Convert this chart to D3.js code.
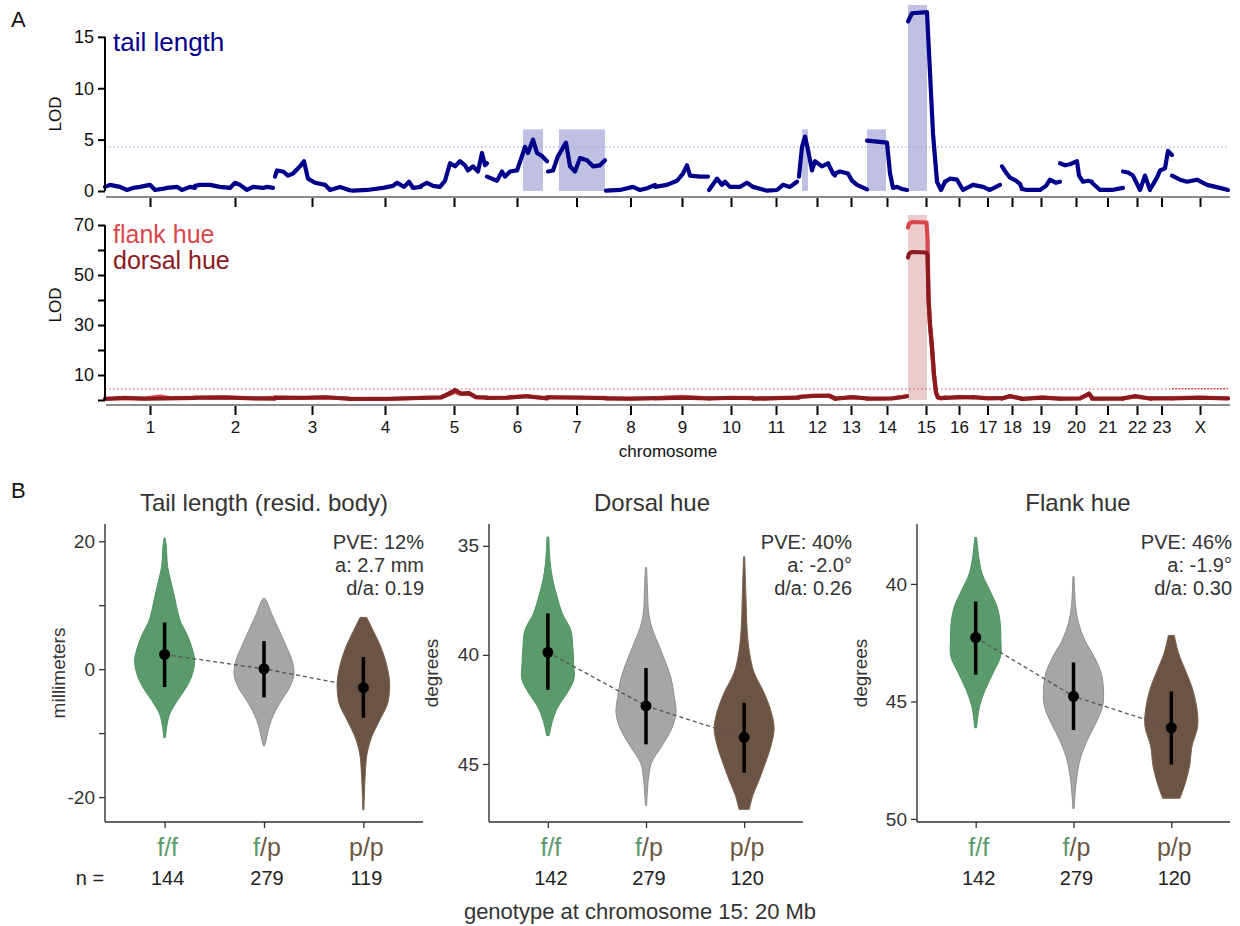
<!DOCTYPE html>
<html><head><meta charset="utf-8">
<script src="https://cdn.jsdelivr.net/npm/d3@7"></script>
<style>
body{margin:0;background:#fff}
svg{display:block}
text{font-family:"Liberation Sans",Arial,Helvetica,sans-serif}
</style>
</head><body>
<svg id="chart" width="1240" height="926"></svg>
<script>
// ---------------- DATA ----------------
const chromosomes = ["1","2","3","4","5","6","7","8","9","10","11","12","13","14","15","16","17","18","19","20","21","22","23","X"];
const chromLengths = [90,80,74,72,66,60,59,49,54,44,46,36,32,40,38,28,29,20,38,32,31,28,21,56];

// [chromosome, position, LOD]
const tailLod = [
 ["1",0,0.4],["1",5,0.6],["1",10,0.5],["1",15,0.4],["1",22,0.1],["1",28,0.3],["1",35,0.4],["1",45,0.6],["1",50,0.1],["1",57,0.2],["1",62,0.3],["1",72,0.4],["1",77,0.1],["1",85,0.4],["1",90,0.3],
 ["2",0,0.5],["2",5,0.6],["2",15,0.6],["2",25,0.4],["2",35,0.3],["2",40,0.8],["2",45,0.6],["2",52,0.1],["2",58,0.4],["2",68,0.3],["2",72,0.4],["2",78,0.3],
 ["3",0,1.4],["3",2,2.0],["3",8,1.9],["3",13,1.5],["3",18,1.7],["3",25,2.4],["3",29,2.9],["3",33,1.2],["3",40,0.8],["3",50,0.6],["3",55,0.1],["3",65,0.4],["3",74,0.1],
 ["4",0,0.1],["4",4,0.03],["4",18,0.1],["4",34,0.3],["4",44,0.5],["4",48,0.8],["4",55,0.4],["4",60,0.9],["4",64,0.3],["4",72,0.4],
 ["5",0,0.5],["5",6,0.8],["5",12,0.5],["5",19,0.4],["5",24,1.0],["5",29,2.7],["5",34,2.4],["5",39,2.9],["5",44,2.5],["5",47,2.0],["5",52,2.4],["5",57,1.9],["5",61,3.7],["5",64,2.5],["5",66,2.7],
 ["6",0,1.4],["6",10,1.0],["6",15,1.9],["6",18,1.4],["6",23,1.9],["6",30,2.0],["6",35,3.4],["6",38,4.3],["6",41,3.7],["6",46,5.0],["6",50,3.7],["6",55,3.4],["6",60,2.9],
 ["7",1,1.9],["7",6,2.0],["7",11,3.4],["7",19,4.7],["7",23,2.4],["7",28,1.9],["7",33,3.2],["7",40,3.0],["7",46,2.4],["7",53,2.5],["7",58,3.0],
 ["8",0,0.03],["8",14,0.1],["8",27,0.4],["8",34,0.1],["8",42,0.3],["8",49,0.6],
 ["9",0,0.4],["9",12,0.6],["9",22,1.0],["9",28,1.7],["9",32,2.5],["9",35,1.5],["9",45,1.4],["9",53,1.4],
 ["10",0,0.1],["10",8,1.2],["10",13,0.6],["10",16,0.9],["10",21,0.4],["10",31,0.4],["10",38,0.8],["10",44,0.4],
 ["11",0,0.4],["11",14,0.03],["11",24,0.1],["11",30,0.6],["11",37,0.4],["11",44,0.9],
 ["12",0,1.4],["12",3,4.3],["12",6,5.3],["12",9,4.0],["12",13,2.0],["12",16,2.9],["12",23,2.4],["12",29,2.7],["12",34,1.7],["12",36,1.5],
 ["13",0,1.7],["13",5,1.9],["13",13,1.7],["13",17,1.0],["13",22,0.6],["13",32,0.15],
 ["14",0,4.9],["14",20,4.7],["14",23,1.7],["14",26,0.3],["14",30,0.4],["14",35,0.2],["14",40,0.1],
 ["15",1,16.5],["15",5,17.3],["15",20,17.4],["15",23,11.5],["15",26,5.6],["15",30,0.9],["15",34,0.1],["15",38,0.9],
 ["16",0,0.9],["16",5,1.2],["16",12,1.1],["16",18,0.1],["16",28,0.6],
 ["17",0,0.6],["17",10,0.4],["17",17,0.1],["17",27,0.6],
 ["18",0,2.4],["18",4,1.8],["18",8,1.3],["18",14,1.0],["18",18,0.7],["18",20,0.2],
 ["19",0,0.2],["19",5,0.1],["19",18,0.1],["19",24,0.5],["19",28,1.1],["19",34,0.8],["19",38,0.9],
 ["20",0,2.7],["20",5,2.5],["20",10,2.6],["20",17,2.9],["20",19,1.5],["20",23,0.9],["20",28,1.0],["20",32,0.9],
 ["21",0,0.8],["21",8,0.1],["21",20,0.1],["21",31,0.3],
 ["22",0,1.9],["22",5,1.8],["22",10,1.5],["22",17,0.1],["22",22,1.5],["22",27,0.1],
 ["23",0,0.3],["23",6,1.3],["23",9,2.0],["23",14,2.2],["23",17,3.9],["23",21,3.5],
 ["X",0,1.5],["X",8,1.1],["X",15,0.9],["X",25,1.1],["X",35,0.6],["X",48,0.3],["X",56,0.1]
];

const flankLod = [
 ["1",0,0.5],["1",20,0.7],["1",40,0.6],["1",55,1.4],["1",65,0.8],["1",90,0.9],
 ["2",0,1.0],["2",30,1.1],["2",60,0.7],["2",80,0.9],
 ["3",0,1.1],["3",30,0.8],["3",50,1.0],["3",74,0.6],
 ["4",0,0.5],["4",40,0.4],["4",72,0.9],
 ["5",0,0.9],["5",20,1.1],["5",30,2.6],["5",34,3.4],["5",40,2.4],["5",48,2.5],["5",55,1.0],["5",66,0.9],
 ["6",0,0.9],["6",20,1.0],["6",40,1.6],["6",45,1.2],["6",60,0.8],
 ["7",0,1.2],["7",30,0.9],["7",59,0.9],
 ["8",0,0.7],["8",25,0.6],["8",49,0.8],
 ["9",0,0.8],["9",27,1.3],["9",54,0.7],
 ["10",0,0.7],["10",22,0.8],["10",44,0.9],
 ["11",0,0.6],["11",30,0.9],["11",46,1.0],
 ["12",0,1.3],["12",15,1.8],["12",30,1.6],["12",36,0.7],
 ["13",0,0.6],["13",17,1.0],["13",32,0.7],
 ["14",0,0.6],["14",25,0.7],["14",36,1.3],["14",40,1.6],
 ["15",1,69],["15",2,70.5],["15",5,71.2],["15",19.5,71],["15",20.5,65],["15",21.5,42],["15",23,30],["15",25,21],["15",27,10],["15",29,3],["15",31,1],["15",34,0.6],["15",38,0.9],
 ["16",0,0.9],["16",14,1.0],["16",28,1.2],
 ["17",0,1.0],["17",15,0.8],["17",29,0.7],
 ["18",0,0.7],["18",8,1.4],["18",20,0.6],
 ["19",0,0.5],["19",20,1.1],["19",38,0.6],
 ["20",0,0.6],["20",20,0.7],["20",29,2.2],["20",32,0.9],
 ["21",0,0.6],["21",31,0.5],
 ["22",0,0.7],["22",12,1.3],["22",28,0.6],
 ["23",0,0.6],["23",21,0.8],
 ["X",0,0.8],["X",28,1.0],["X",56,0.7]
];

const dorsalLod = [
 ["1",0,0.4],["1",20,0.9],["1",40,0.5],["1",60,0.6],["1",90,0.8],
 ["2",0,0.9],["2",30,1.0],["2",60,0.6],["2",80,0.5],
 ["3",0,0.8],["3",30,0.9],["3",50,1.1],["3",74,0.5],
 ["4",0,0.4],["4",40,0.5],["4",72,0.8],
 ["5",0,0.8],["5",20,1.0],["5",30,3.0],["5",34,4.0],["5",40,2.6],["5",48,2.8],["5",55,1.2],["5",66,1.0],
 ["6",0,0.8],["6",20,0.9],["6",40,1.5],["6",45,1.3],["6",60,0.6],
 ["7",0,1.0],["7",30,1.0],["7",59,0.7],
 ["8",0,0.6],["8",25,0.5],["8",49,0.7],
 ["9",0,0.6],["9",27,0.9],["9",54,0.6],
 ["10",0,0.6],["10",22,0.9],["10",44,0.7],
 ["11",0,0.5],["11",30,0.8],["11",46,0.9],
 ["12",0,1.2],["12",15,1.6],["12",30,1.8],["12",36,0.6],
 ["13",0,0.5],["13",17,1.2],["13",32,0.6],
 ["14",0,0.5],["14",25,0.6],["14",36,1.2],["14",40,1.5],
 ["15",1,57],["15",2,58.5],["15",5,59.2],["15",19,59],["15",20.5,58],["15",21.5,40],["15",23,30],["15",25,21],["15",27,10],["15",29,3],["15",31,1],["15",34,0.8],["15",38,1.0],
 ["16",0,0.8],["16",14,1.2],["16",28,1.0],
 ["17",0,1.2],["17",15,0.6],["17",29,0.8],
 ["18",0,0.6],["18",8,1.6],["18",20,0.5],
 ["19",0,0.4],["19",20,0.9],["19",38,0.5],
 ["20",0,0.5],["20",20,0.6],["20",29,2.6],["20",32,1.0],
 ["21",0,0.5],["21",31,0.6],
 ["22",0,0.6],["22",12,1.6],["22",28,0.5],
 ["23",0,0.7],["23",21,0.6],
 ["X",0,0.6],["X",28,0.9],["X",56,0.6]
];

// [chromosome, start, end, upper LOD]
const tailIntervals = [["6",36,56,6.0],["7",12,58,6.0],["12",3,9,6.0],["14",0,19,6.0],["15",1,20,18.1]];
const hueIntervals = [["15",1,20,74]];
const tailThreshold = 4.28;
const hueThreshold = 4.4;
const hueThresholdX = 4.5;

const lodTicksTop = [0,5,10,15];
const lodTicksBottom = [0,10,20,30,40,50,60,70];
const lodLabelsBottom = [10,30,50,70];

// Panel B
const genotypes = ["f/f","f/p","p/p"];
const tailN = [144,279,119];
const dorsalN = [142,279,120];
const flankN = [142,279,120];
const tailMeans = [2.3,0.05,-2.9];
const dorsalMeans = [39.88,42.34,43.78];
const flankMeans = [42.28,44.78,46.12];
const tailBars = [[-2.8,7.3],[-4.4,4.4],[-7.6,1.9]];
const dorsalBars = [[38.1,41.6],[40.6,44.1],[42.2,45.4]];
const flankBars = [[40.75,43.86],[43.34,46.22],[44.58,47.68]];
const tailStats = ["PVE: 12%","a: 2.7 mm","d/a: 0.19"];
const dorsalStats = ["PVE: 40%","a: -2.0°","d/a: 0.26"];
const flankStats = ["PVE: 46%","a: -1.9°","d/a: 0.30"];

// violin profiles: [value, relative density width]
const tailFF = [[20.5,0.02],[19.5,0.05],[18,0.07],[16,0.1],[13.9,0.2],[11.3,0.33],[8.7,0.45],[7.2,0.55],[5.6,0.73],[3.5,0.9],[1.4,1.0],[-0.7,0.93],[-2.8,0.73],[-4.9,0.43],[-7.0,0.17],[-9,0.07],[-10.7,0.03]];
const tailFP = [[11.1,0.02],[10.5,0.1],[8.7,0.25],[6.1,0.5],[3.5,0.75],[1.4,0.93],[-0.7,1.0],[-2.8,0.86],[-4.9,0.58],[-7.0,0.33],[-9.0,0.17],[-11.1,0.07],[-12,0.02]];
const tailPP = [[8.1,0.11],[6.1,0.32],[3.5,0.58],[0.8,0.77],[-1.8,0.87],[-3.4,0.87],[-5.5,0.8],[-8.1,0.53],[-10.7,0.27],[-13.3,0.12],[-15.9,0.07],[-20,0.03],[-22,0.02]];
const dorsalFF = [[34.6,0.03],[35.8,0.08],[36.6,0.17],[37.3,0.3],[38.1,0.48],[38.85,0.76],[39.6,0.83],[40.4,0.86],[41.1,0.87],[41.75,0.64],[42.4,0.33],[43.0,0.16],[43.7,0.04]];
const dorsalFP = [[36.0,0.02],[37.0,0.05],[38.1,0.09],[38.85,0.22],[39.6,0.44],[40.4,0.67],[41.1,0.84],[41.9,0.94],[42.65,1.0],[43.4,0.85],[44.2,0.52],[44.95,0.18],[45.7,0.08],[46.9,0.02]];
const dorsalPP = [[35.5,0.02],[37.3,0.06],[38.85,0.1],[39.9,0.18],[40.8,0.33],[41.75,0.67],[42.65,0.91],[43.4,1.0],[44.2,0.89],[44.95,0.71],[45.7,0.51],[46.45,0.29],[47.08,0.17]];
const flankFF = [[38.02,0.03],[38.84,0.1],[39.55,0.21],[40.25,0.46],[40.96,0.71],[41.67,0.82],[42.38,0.84],[43.08,0.83],[43.79,0.58],[44.5,0.32],[45.2,0.13],[46.12,0.03]];
const flankFP = [[39.69,0.02],[40.96,0.07],[41.67,0.17],[42.38,0.37],[43.08,0.68],[43.79,0.92],[44.5,1.0],[45.2,0.97],[45.91,0.75],[46.62,0.47],[47.33,0.25],[48.03,0.13],[48.8,0.06],[49.56,0.02]];
const flankPP = [[42.19,0.1],[42.94,0.24],[43.65,0.46],[44.36,0.68],[45.2,0.84],[46.05,0.88],[46.9,0.69],[47.75,0.61],[48.46,0.47],[49.12,0.29]];

// ---------------- DRAWING ----------------
const svg = d3.select("#chart");
const FONT = '"Liberation Sans",Arial,Helvetica,sans-serif';

const offsets = [];
{ let acc = 0; chromLengths.forEach(l => { offsets.push(acc); acc += l; }); }
const total = d3.sum(chromLengths);
const x = d3.scaleLinear().domain([0, total]).range([105, 1228]);
const cIdx = c => chromosomes.indexOf(c);
const gpos = (c, p) => offsets[cIdx(c)] + p;
const mids = chromosomes.map((c, i) => offsets[i] + chromLengths[i] / 2);

function lodPanel(opts) {
  const g = svg.append("g");
  const y = opts.y;
  g.selectAll("rect.iv").data(opts.intervals).join("rect")
    .attr("x", d => x(gpos(d[0], d[1])))
    .attr("width", d => x(gpos(d[0], d[2])) - x(gpos(d[0], d[1])))
    .attr("y", d => y(d[3]))
    .attr("height", d => y(0) - y(d[3]))
    .attr("fill", opts.ivColor);
  opts.thresholds.forEach(t => {
    g.append("line").attr("x1", x(t.from)).attr("x2", x(t.to))
      .attr("y1", y(t.v)).attr("y2", y(t.v))
      .attr("stroke", opts.thrColor).attr("stroke-width", t.w || 1.2)
      .attr("stroke-dasharray", t.dash || "1.5,2.5");
  });
  const line = d3.line().x(d => x(gpos(d[0], d[1]))).y(d => y(d[2]));
  opts.series.forEach(s => {
    const groups = d3.groups(s.data, d => d[0]);
    g.selectAll(null).data(groups).join("path")
      .attr("d", d => line(d[1]))
      .attr("fill", "none").attr("stroke", s.color)
      .attr("stroke-width", 4.2).attr("stroke-linejoin", "round").attr("stroke-linecap", "round");
  });
  const ya = d3.axisLeft(y).tickValues(opts.yTicks).tickSize(7).tickPadding(4)
    .tickFormat(d => opts.yLabels.includes(d) ? d : "");
  const yag = g.append("g").attr("transform", "translate(105,0)").call(ya);
  yag.select(".domain").remove();
  yag.append("line").attr("x1", 0).attr("x2", 0)
    .attr("y1", y(0)).attr("y2", y(d3.max(opts.yTicks))).attr("stroke", "#000").attr("stroke-width", 2);
  yag.selectAll(".tick line").attr("stroke", "#000").attr("stroke-width", 2);
  yag.selectAll(".tick text").attr("font-size", 18).attr("font-family", FONT).attr("fill", "#111");
  const xa = d3.axisBottom(x).tickValues(mids).tickSize(10).tickPadding(6)
    .tickFormat((d, i) => opts.xLabels ? chromosomes[i] : "");
  const xag = g.append("g").attr("transform", `translate(0,${opts.xAxisY})`).call(xa);
  xag.select(".domain").remove();
  xag.append("line").attr("x1", 106).attr("x2", 1230).attr("y1", 0).attr("y2", 0)
    .attr("stroke", "#8c8c8c").attr("stroke-width", 2);
  xag.selectAll(".tick line").attr("stroke", "#000").attr("stroke-width", 2).attr("y1", 1);
  xag.selectAll(".tick text").attr("font-size", 17).attr("font-family", FONT).attr("fill", "#111");
  g.append("text").attr("transform", `translate(61,${opts.lodY}) rotate(-90)`)
    .attr("text-anchor", "middle").attr("font-size", 17).attr("fill", "#111").text("LOD");
  return g;
}

const yA = d3.scaleLinear().domain([0, 18.1]).range([191, 5]);
lodPanel({
  y: yA, intervals: tailIntervals, ivColor: "#bfc0e2", thrColor: "#9d9dd6",
  thresholds: [{from: 0, to: total, v: tailThreshold}],
  series: [{data: tailLod, color: "#00008b"}],
  yTicks: lodTicksTop, yLabels: lodTicksTop, xAxisY: 197, xLabels: false, lodY: 114
});
svg.append("text").attr("x", 113).attr("y", 51).attr("font-size", 26).attr("fill", "#00008b").text("tail length");

const yA2 = d3.scaleLinear().domain([0, 74]).range([400, 215]);
const xStart = offsets[cIdx("X")];
lodPanel({
  y: yA2, intervals: hueIntervals, ivColor: "#eacccd", thrColor: "#e2474b",
  thresholds: [{from: 0, to: xStart, v: hueThreshold}, {from: xStart, to: total, v: hueThresholdX, dash: "2,1.2", w: 1.5}],
  series: [{data: flankLod, color: "#d9474c"}, {data: dorsalLod, color: "#8b1a1e"}],
  yTicks: lodTicksBottom, yLabels: lodLabelsBottom, xAxisY: 405, xLabels: true, lodY: 305
});
svg.append("text").attr("x", 113).attr("y", 243).attr("font-size", 25).attr("fill", "#d9474c").text("flank hue");
svg.append("text").attr("x", 113).attr("y", 269).attr("font-size", 25).attr("fill", "#8b1a1e").text("dorsal hue");
svg.append("text").attr("x", 668).attr("y", 457).attr("text-anchor", "middle").attr("font-size", 17).attr("fill", "#111").text("chromosome");

svg.append("text").attr("x", 11).attr("y", 27).attr("font-size", 22).attr("fill", "#111").text("A");
svg.append("text").attr("x", 11).attr("y", 498).attr("font-size", 22).attr("fill", "#111").text("B");

// ---- violins ----
const genoColors = {f: "#5a9a6b", p: "#6b5444"};
const violinFill = ["#5a9a6b", "#a6a6a6", "#6b5444"];
const violinStroke = ["#4e9362", "#8e8e8e", "#7a6250"];
const wScale = d3.scaleLinear().domain([0, 1]).range([0, 30]);

function violinPanel(o) {
  const g = svg.append("g");
  const xs = d3.scalePoint().domain(genotypes).range([o.x0, o.x1]).padding(0.6);
  const ys = d3.scaleLinear().domain(o.domain).range(o.range);
  const top = 524, bottom = 822;
  o.profiles.forEach((prof, i) => {
    const cx = xs(genotypes[i]);
    const area = d3.area().curve(d3.curveCatmullRom.alpha(0.5))
      .y(d => ys(d[0])).x0(d => cx - wScale(d[1])).x1(d => cx + wScale(d[1]));
    g.append("path").attr("d", area(prof)).attr("fill", violinFill[i])
      .attr("stroke", violinStroke[i]).attr("stroke-width", 1);
  });
  const ml = d3.line().x((d, i) => xs(genotypes[i])).y(d => ys(d));
  g.append("path").attr("d", ml(o.means)).attr("fill", "none").attr("stroke", "#555")
    .attr("stroke-width", 1.3).attr("stroke-dasharray", "4,3");
  g.selectAll(null).data(o.bars).join("line")
    .attr("x1", (d, i) => xs(genotypes[i])).attr("x2", (d, i) => xs(genotypes[i]))
    .attr("y1", d => ys(d[0])).attr("y2", d => ys(d[1]))
    .attr("stroke", "#000").attr("stroke-width", 3.5);
  g.selectAll(null).data(o.means).join("circle")
    .attr("cx", (d, i) => xs(genotypes[i])).attr("cy", d => ys(d)).attr("r", 5.5).attr("fill", "#000");
  g.append("line").attr("x1", o.x0).attr("x2", o.x0).attr("y1", top).attr("y2", bottom)
    .attr("stroke", "#333").attr("stroke-width", 1.4);
  g.append("line").attr("x1", o.x0).attr("x2", o.x1).attr("y1", bottom).attr("y2", bottom)
    .attr("stroke", "#333").attr("stroke-width", 1.4);
  const ya = d3.axisLeft(ys).tickValues(o.ticks).tickSize(6).tickPadding(4)
    .tickFormat(d => o.labels.includes(d) ? String(d) : "");
  const yag = g.append("g").attr("transform", `translate(${o.x0},0)`).call(ya);
  yag.select(".domain").remove();
  yag.selectAll(".tick line").attr("stroke", "#333").attr("stroke-width", 1.3);
  yag.selectAll(".tick text").attr("font-size", 19).attr("font-family", FONT).attr("fill", "#333");
  const xa = d3.axisBottom(xs).tickSize(6).tickFormat("");
  const xag = g.append("g").attr("transform", `translate(0,${bottom})`).call(xa);
  xag.select(".domain").remove();
  xag.selectAll(".tick line").attr("stroke", "#333").attr("stroke-width", 1.3);
  genotypes.forEach((gt, i) => {
    const t = g.append("text").attr("x", xs(gt) + 3).attr("y", 856).attr("text-anchor", "middle")
      .attr("font-size", 25);
    t.append("tspan").attr("fill", genoColors[gt[0]]).text(gt[0]);
    t.append("tspan").attr("fill", genoColors[gt[2]]).text("/" + gt[2]);
    g.append("text").attr("x", xs(gt) + 3).attr("y", 885).attr("text-anchor", "middle")
      .attr("font-size", 20).attr("fill", "#222").text(o.n[i]);
  });
  g.append("text").attr("x", o.titleX).attr("y", 511).attr("text-anchor", "middle")
    .attr("font-size", 24).attr("fill", "#333").text(o.title);
  o.stats.forEach((s, i) => {
    g.append("text").attr("x", o.statsX).attr("y", 549 + i * 23).attr("text-anchor", "end")
      .attr("font-size", 20).attr("fill", "#333").text(s);
  });
  g.append("text").attr("transform", `translate(${o.yTitleX},673) rotate(-90)`)
    .attr("text-anchor", "middle").attr("font-size", 19).attr("fill", "#333").text(o.yTitle);
}

violinPanel({x0: 105, x1: 423, domain: [-23.9, 22.7], range: [822, 524],
  ticks: [-20, -10, 0, 10, 20], labels: [-20, 0, 20],
  profiles: [tailFF, tailFP, tailPP], means: tailMeans, bars: tailBars, n: tailN,
  title: "Tail length (resid. body)", titleX: 264, stats: tailStats, statsX: 424,
  yTitle: "millimeters", yTitleX: 65});
violinPanel({x0: 489, x1: 803, domain: [34.0, 47.66], range: [524, 822],
  ticks: [35, 40, 45], labels: [35, 40, 45],
  profiles: [dorsalFF, dorsalFP, dorsalPP], means: dorsalMeans, bars: dorsalBars, n: dorsalN,
  title: "Dorsal hue", titleX: 652, stats: dorsalStats, statsX: 852,
  yTitle: "degrees", yTitleX: 438});
violinPanel({x0: 917, x1: 1230, domain: [37.45, 50.13], range: [524, 822],
  ticks: [40, 45, 50], labels: [40, 45, 50],
  profiles: [flankFF, flankFP, flankPP], means: flankMeans, bars: flankBars, n: flankN,
  title: "Flank hue", titleX: 1078, stats: flankStats, statsX: 1232,
  yTitle: "degrees", yTitleX: 867});

svg.append("text").attr("x", 90).attr("y", 885).attr("text-anchor", "middle")
  .attr("font-size", 20).attr("fill", "#222").text("n =");
svg.append("text").attr("x", 640).attr("y", 919).attr("text-anchor", "middle")
  .attr("font-size", 22).attr("fill", "#333").text("genotype at chromosome 15: 20 Mb");
</script>
</body></html>
